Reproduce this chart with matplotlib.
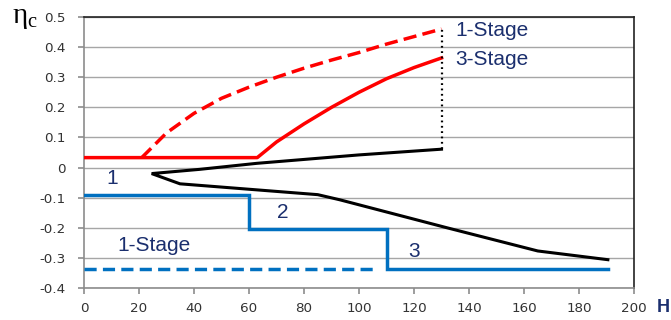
import matplotlib
matplotlib.use("Agg")
import matplotlib.pyplot as plt

# ---- data ----
h_red_dash = [21, 30, 40, 50, 60, 70, 80, 90, 100, 110, 120, 130]
eta_red_dash = [0.033, 0.115, 0.18, 0.23, 0.267, 0.30, 0.33, 0.357, 0.382, 0.41, 0.435, 0.46]

h_red_solid = [0, 63, 70, 80, 90, 100, 110, 120, 130]
eta_red_solid = [0.033, 0.033, 0.085, 0.145, 0.20, 0.25, 0.295, 0.332, 0.364]

h_black = [130, 100, 62.8, 42, 24.6, 34.9, 85, 93, 132, 144, 165, 190.5]
eta_black = [0.061, 0.042, 0.014, -0.006, -0.02, -0.054, -0.09, -0.107, -0.2, -0.228, -0.277, -0.306]

h_dotted = [130, 130]
eta_dotted = [0.061, 0.46]

h_blue_step = [0, 60, 60, 110, 110, 190.5]
eta_blue_step = [-0.091, -0.091, -0.204, -0.204, -0.336, -0.336]

h_blue_dash = [0, 107]
eta_blue_dash = [-0.336, -0.336]

x_ticks = [0, 20, 40, 60, 80, 100, 120, 140, 160, 180, 200]
y_ticks = [-0.4, -0.3, -0.2, -0.1, 0, 0.1, 0.2, 0.3, 0.4, 0.5]
y_tick_labels = ["-0.4", "-0.3", "-0.2", "-0.1", "0", "0.1", "0.2", "0.3", "0.4", "0.5"]

labels = [("1-Stage", 135, 0.455), ("3-Stage", 135, 0.36),
          ("1", 8, -0.035), ("2", 70, -0.148), ("3", 118, -0.28),
          ("1-Stage", 12, -0.26)]

# ---- style ----
RED = "#FF0000"
BLUE = "#0070C0"
NAVY = "#1B2F6E"

fig = plt.figure(figsize=(6.71, 3.20), dpi=100)
ax = fig.add_axes([84 / 671, 1 - 288 / 320, (634 - 84) / 671, (288 - 17) / 320])

ax.set_xlim(0, 200)
ax.set_ylim(-0.4, 0.5)
ax.set_xticks(x_ticks)
ax.set_yticks(y_ticks)
ax.set_yticklabels(y_tick_labels)
ax.grid(axis="y", color="#A6A6A6", lw=1.0, zorder=0)
ax.set_axisbelow(True)

for s in ("left", "bottom"):
    ax.spines[s].set_color("#8C8C8C")
    ax.spines[s].set_linewidth(1.2)
for s in ("top", "right"):
    ax.spines[s].set_color("#222222")
    ax.spines[s].set_linewidth(1.2)

ax.tick_params(axis="both", colors="#8C8C8C", labelcolor="#333333",
               labelsize=9.7, length=4, width=1.2)
ax.tick_params(axis="y", pad=9)
ax.tick_params(axis="x", pad=6)

ax.plot(h_red_dash, eta_red_dash, color=RED, lw=2.5, dashes=(3.8, 1.8), zorder=3)
ax.plot(h_red_solid, eta_red_solid, color=RED, lw=2.5, zorder=3)
ax.plot(h_black, eta_black, color="black", lw=2.2, zorder=3, solid_joinstyle="miter")
ax.plot(h_dotted, eta_dotted, color="black", lw=1.6, linestyle=(0, (0.8, 1.6)), zorder=3)
ax.plot(h_blue_step, eta_blue_step, color=BLUE, lw=2.5, zorder=3, solid_joinstyle="miter")
ax.plot(h_blue_dash, eta_blue_dash, color=BLUE, lw=2.5, dashes=(3.5, 1.8), zorder=3)

for txt, x, y in labels:
    ax.text(x, y, txt, color=NAVY, fontsize=15, family="Liberation Sans",
            ha="left", va="center", zorder=4)

fig.text(12 / 671, 1 - 5 / 320, r"$\mathregular{\eta_c}$", fontsize=21,
         family="Liberation Serif", color="black", ha="left", va="top")
fig.text(670 / 671, 1 - 308 / 320, "H", fontsize=13, fontweight="bold",
         family="Liberation Sans", color=NAVY, ha="right", va="center")

fig.savefig("out.png", dpi=100)
